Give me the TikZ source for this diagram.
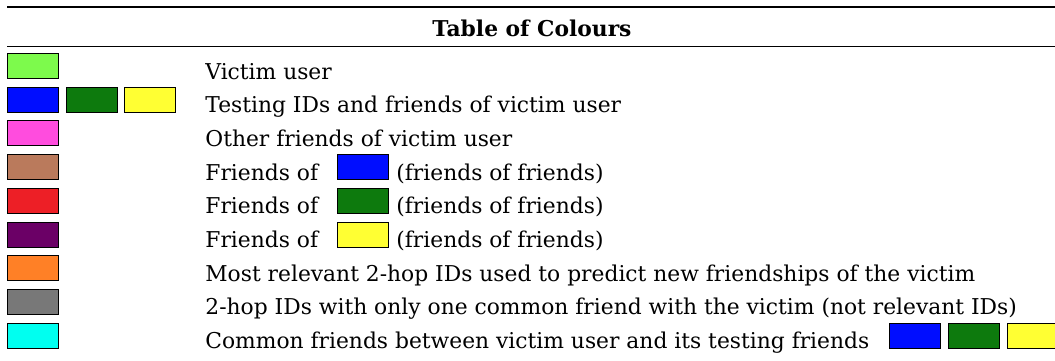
\documentclass[tikz,border=0pt]{standalone}
\usepackage{fontspec}
\setmainfont{DejaVu Serif}
\usepackage{tikz}
\definecolor{cvictim}{rgb}{0.49, 0.98, 0.3}
\definecolor{cblue}{rgb}{0, 0.05, 1}
\definecolor{cgreen}{rgb}{0.05, 0.48, 0.05}
\definecolor{cyellow}{rgb}{1, 1, 0.2}
\definecolor{cpink}{rgb}{1, 0.3, 0.87}
\definecolor{cbrown}{rgb}{0.73, 0.48, 0.36}
\definecolor{cred}{rgb}{0.93, 0.12, 0.15}
\definecolor{cpurple}{rgb}{0.42, 0, 0.4}
\definecolor{corange}{rgb}{1, 0.5, 0.15}
\definecolor{cgrey}{rgb}{0.47, 0.47, 0.47}
\definecolor{ccyan}{rgb}{0, 1, 0.94}

\begin{document}
\begin{tikzpicture}[x=0.5pt, y=-0.5pt, thin] % one unit = one pixel, y downwards
  \tikzstyle{swatch}=[draw=black, line width=0.5pt, minimum width=25.5pt, minimum height=12.5pt, inner sep=0pt, anchor=north west]
  \tikzstyle{txt}=[anchor=base west, inner sep=0pt, font=\fontsize{10.9}{12}\selectfont]
  \useasboundingbox (0,0) rectangle (1055,360);

	\draw[line width=0.65pt] (7,7) -- (1055,7);
	\draw[line width=0.45pt] (7,46) -- (1055,46);
	\node[anchor=base, inner sep=0pt, font=\fontsize{10.9}{12}\selectfont\bfseries] (title) at (532,36) {Table of Colours};

	\node[swatch, fill=cvictim] (S1) at (7,53.0) {};
	\node[swatch, fill=cblue]   (S2a) at (7,86.7) {};
	\node[swatch, fill=cgreen]  (S2b) at (65.5,86.7) {};
	\node[swatch, fill=cyellow] (S2c) at (124,86.7) {};
	\node[swatch, fill=cpink]   (S3) at (7,120.4) {};
	\node[swatch, fill=cbrown]  (S4) at (7,154.1) {};
	\node[swatch, fill=cred]    (S5) at (7,187.8) {};
	\node[swatch, fill=cpurple] (S6) at (7,221.5) {};
	\node[swatch, fill=corange] (S7) at (7,255.2) {};
	\node[swatch, fill=cgrey]   (S8) at (7,288.9) {};
	\node[swatch, fill=ccyan]   (S9) at (7,322.6) {};

	\node[txt] (T1) at (205,79) {Victim user};
	\node[txt] (T2) at (205,112.7) {Testing IDs and friends of victim user};
	\node[txt] (T3) at (205,146.4) {Other friends of victim user};
	\node[txt] (T4) at (205,180.1) {Friends of};
	\node[swatch, fill=cblue]   (I4) at (337,154.1) {};
	\node[txt] (T4b) at (396,180.1) {(friends of friends)};
	\node[txt] (T5) at (205,213.8) {Friends of};
	\node[swatch, fill=cgreen]  (I5) at (337,187.8) {};
	\node[txt] (T5b) at (396,213.8) {(friends of friends)};
	\node[txt] (T6) at (205,247.5) {Friends of};
	\node[swatch, fill=cyellow] (I6) at (337,221.5) {};
	\node[txt] (T6b) at (396,247.5) {(friends of friends)};
	\node[txt] (T7) at (205,281.2) {Most relevant 2-hop IDs used to predict new friendships of the victim};
	\node[txt] (T8) at (205,314.9) {2-hop IDs with only one common friend with the victim (not relevant IDs)};
	\node[txt] (T9) at (205,348.6) {Common friends between victim user and its testing friends};
	\node[swatch, fill=cblue]   (I9a) at (889,322.6) {};
	\node[swatch, fill=cgreen]  (I9b) at (948,322.6) {};
	\node[swatch, fill=cyellow] (I9c) at (1007,322.6) {};

\end{tikzpicture}
\end{document}
